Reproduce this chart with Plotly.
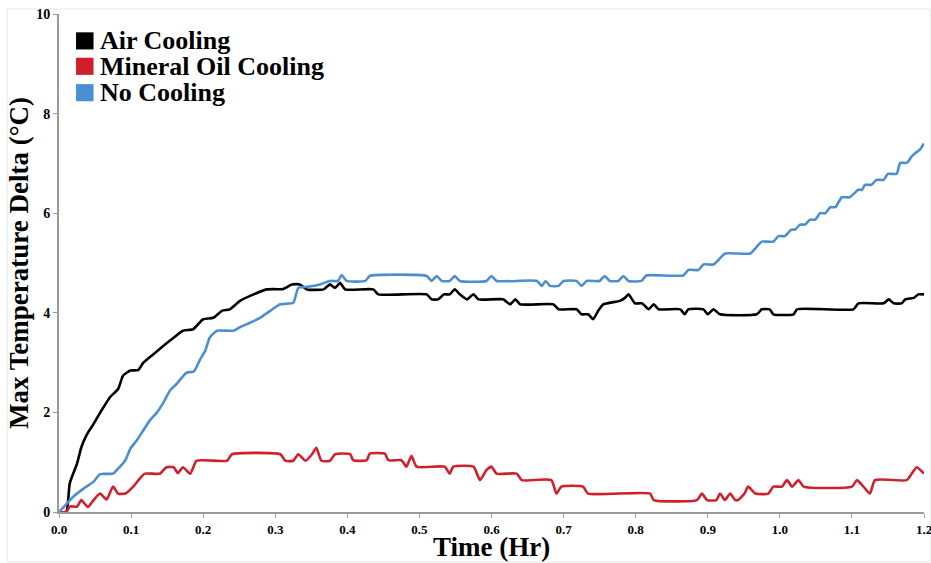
import plotly.graph_objects as go

# Max temperature delta (°C) over time (hr) for each cooling setup: (time, delta)
air_cooling = [
    (0.0, 0.0), (0.01, 0.0), (0.015, 0.58), (0.025, 0.97), (0.031, 1.3), (0.038, 1.54),
    (0.048, 1.77), (0.059, 2.04), (0.071, 2.31), (0.082, 2.47), (0.089, 2.74), (0.099, 2.84),
    (0.11, 2.85), (0.117, 3.0), (0.131, 3.17), (0.145, 3.34), (0.159, 3.5), (0.172, 3.64),
    (0.186, 3.67), (0.2, 3.87), (0.214, 3.9), (0.226, 4.04), (0.237, 4.07), (0.251, 4.24),
    (0.27, 4.37), (0.288, 4.47), (0.311, 4.48), (0.323, 4.57), (0.334, 4.57), (0.344, 4.47),
    (0.367, 4.47), (0.376, 4.57), (0.383, 4.5), (0.39, 4.6), (0.397, 4.47), (0.436, 4.47),
    (0.443, 4.37), (0.51, 4.37), (0.517, 4.27), (0.526, 4.27), (0.534, 4.37), (0.542, 4.37),
    (0.549, 4.47), (0.556, 4.37), (0.566, 4.27), (0.575, 4.37), (0.582, 4.27), (0.616, 4.27),
    (0.626, 4.17), (0.633, 4.27), (0.64, 4.17), (0.686, 4.17), (0.693, 4.07), (0.718, 4.07),
    (0.725, 3.97), (0.734, 3.97), (0.741, 3.87), (0.748, 4.04), (0.755, 4.17), (0.778, 4.24),
    (0.785, 4.3), (0.79, 4.37), (0.799, 4.19), (0.809, 4.19), (0.818, 4.07), (0.825, 4.17),
    (0.832, 4.07), (0.862, 4.07), (0.868, 3.97), (0.873, 4.07), (0.894, 4.07), (0.9, 3.97),
    (0.908, 4.07), (0.917, 3.97), (0.968, 3.97), (0.975, 4.07), (0.986, 4.07), (0.991, 3.97),
    (1.019, 3.97), (1.024, 4.07), (1.102, 4.07), (1.109, 4.19), (1.144, 4.19), (1.151, 4.27),
    (1.158, 4.19), (1.169, 4.19), (1.174, 4.27), (1.186, 4.3), (1.192, 4.37), (1.2, 4.37),
]

mineral_oil_cooling = [
    (0.0, 0.0), (0.01, 0.0), (0.015, 0.11), (0.025, 0.11), (0.031, 0.24), (0.04, 0.1),
    (0.048, 0.24), (0.057, 0.37), (0.066, 0.25), (0.075, 0.51), (0.082, 0.37), (0.092, 0.37),
    (0.103, 0.51), (0.112, 0.67), (0.119, 0.77), (0.14, 0.77), (0.149, 0.9), (0.159, 0.9),
    (0.165, 0.78), (0.172, 0.9), (0.182, 0.77), (0.191, 1.03), (0.233, 1.03), (0.24, 1.16),
    (0.307, 1.16), (0.314, 1.03), (0.325, 1.03), (0.332, 1.16), (0.342, 1.03), (0.351, 1.16),
    (0.357, 1.29), (0.364, 1.03), (0.376, 1.03), (0.383, 1.16), (0.404, 1.16), (0.408, 1.04),
    (0.427, 1.04), (0.431, 1.17), (0.452, 1.17), (0.457, 1.04), (0.475, 1.04), (0.482, 0.91),
    (0.489, 1.13), (0.496, 0.91), (0.535, 0.91), (0.542, 0.77), (0.547, 0.91), (0.575, 0.91),
    (0.584, 0.64), (0.593, 0.84), (0.6, 0.91), (0.607, 0.77), (0.635, 0.77), (0.642, 0.64),
    (0.683, 0.64), (0.69, 0.37), (0.697, 0.51), (0.727, 0.51), (0.734, 0.37), (0.82, 0.37),
    (0.825, 0.24), (0.885, 0.24), (0.892, 0.37), (0.899, 0.24), (0.912, 0.24), (0.917, 0.37),
    (0.924, 0.24), (0.931, 0.37), (0.938, 0.24), (0.942, 0.24), (0.951, 0.37), (0.956, 0.51),
    (0.966, 0.37), (0.984, 0.37), (0.991, 0.51), (1.003, 0.51), (1.01, 0.64), (1.017, 0.51),
    (1.026, 0.64), (1.033, 0.51), (1.1, 0.51), (1.107, 0.64), (1.116, 0.51), (1.125, 0.37),
    (1.132, 0.64), (1.176, 0.64), (1.183, 0.77), (1.19, 0.9), (1.2, 0.77),
]

no_cooling = [
    (0.0, 0.0), (0.011, 0.17), (0.02, 0.31), (0.034, 0.47), (0.048, 0.61), (0.057, 0.76),
    (0.075, 0.77), (0.082, 0.87), (0.092, 1.04), (0.099, 1.27), (0.108, 1.44), (0.117, 1.64),
    (0.126, 1.84), (0.136, 2.0), (0.145, 2.2), (0.154, 2.44), (0.163, 2.57), (0.177, 2.8),
    (0.187, 2.82), (0.196, 3.07), (0.203, 3.24), (0.209, 3.5), (0.219, 3.64), (0.242, 3.64),
    (0.251, 3.71), (0.265, 3.8), (0.279, 3.9), (0.293, 4.04), (0.307, 4.17), (0.325, 4.2),
    (0.332, 4.5), (0.344, 4.52), (0.362, 4.57), (0.376, 4.64), (0.387, 4.64), (0.392, 4.76),
    (0.399, 4.64), (0.425, 4.64), (0.431, 4.74), (0.51, 4.74), (0.517, 4.64), (0.524, 4.74),
    (0.531, 4.64), (0.542, 4.64), (0.549, 4.74), (0.556, 4.64), (0.593, 4.64), (0.6, 4.74),
    (0.607, 4.64), (0.663, 4.64), (0.67, 4.54), (0.675, 4.64), (0.681, 4.54), (0.693, 4.54),
    (0.7, 4.64), (0.718, 4.64), (0.725, 4.54), (0.732, 4.64), (0.75, 4.64), (0.757, 4.74),
    (0.764, 4.64), (0.776, 4.64), (0.783, 4.74), (0.79, 4.64), (0.808, 4.64), (0.815, 4.75),
    (0.866, 4.75), (0.873, 4.86), (0.887, 4.86), (0.894, 4.97), (0.908, 4.97), (0.916, 5.08),
    (0.924, 5.19), (0.959, 5.19), (0.967, 5.31), (0.975, 5.43), (0.991, 5.43), (0.998, 5.54),
    (1.007, 5.54), (1.016, 5.67), (1.021, 5.67), (1.028, 5.77), (1.035, 5.77), (1.042, 5.87),
    (1.049, 5.87), (1.056, 6.0), (1.063, 6.0), (1.07, 6.12), (1.077, 6.12), (1.086, 6.32),
    (1.097, 6.32), (1.109, 6.47), (1.114, 6.47), (1.118, 6.57), (1.127, 6.57), (1.134, 6.67),
    (1.144, 6.67), (1.15, 6.79), (1.162, 6.79), (1.167, 7.01), (1.176, 7.01), (1.183, 7.14),
    (1.188, 7.21), (1.194, 7.27), (1.2, 7.4),
]

series_names = ["Air Cooling", "Mineral Oil Cooling", "No Cooling"]
series_colors = ["#000000", "#d21f2b", "#4b8fd3"]
x_ticks = [0.0, 0.1, 0.2, 0.3, 0.4, 0.5, 0.6, 0.7, 0.8, 0.9, 1.0, 1.1, 1.2]
y_ticks = [0, 2, 4, 6, 8, 10]
x_title = "Time (Hr)"
y_title = "Max Temperature Delta (°C)"

SERIF = "Liberation Serif, Times New Roman, serif"

fig = go.Figure()
for name, color, data in zip(series_names, series_colors,
                             [air_cooling, mineral_oil_cooling, no_cooling]):
    xs = [p[0] for p in data]
    ys = [p[1] for p in data]
    fig.add_trace(go.Scatter(
        x=xs, y=ys, mode="lines", name=name, showlegend=False,
        line=dict(color=color, width=2.6, shape="spline", smoothing=0.5),
    ))

axis_common = dict(
    showgrid=False, zeroline=False, showline=True, linecolor="#9a9a9a", linewidth=2,
    ticks="outside", ticklen=4, tickwidth=1, tickcolor="#9a9a9a",
)

fig.update_layout(
    width=931, height=563,
    margin=dict(l=59, r=7, t=12, b=51),
    paper_bgcolor="white", plot_bgcolor="white",
    showlegend=False,
    xaxis=dict(
        range=[0, 1.2], tickvals=x_ticks, ticktext=[f"{v:.1f}" for v in x_ticks],
        tickfont=dict(family=SERIF, size=13, color="#000000", weight="bold"),
        ticklabeloverflow="allow", automargin=False,
        **axis_common,
    ),
    yaxis=dict(
        range=[0, 10], tickvals=y_ticks, ticktext=[str(v) for v in y_ticks],
        tickfont=dict(family=SERIF, size=14, color="#000000", weight="bold"),
        title=dict(text=f"<b>{y_title}</b>",
                   font=dict(family=SERIF, size=27, color="#000000"), standoff=0),
        **axis_common,
    ),
)

# Horizontal axis title, centred under the plot area
fig.add_annotation(xref="paper", yref="paper", x=0.5, y=-0.071,
                   xanchor="center", yanchor="middle", showarrow=False, borderpad=0,
                   text=f"<b>{x_title}</b>",
                   font=dict(family=SERIF, size=27, color="#000000"))

# Legend: colour swatch plus label for each series, stacked in the upper-left corner
legend_rows = [0.946, 0.895, 0.842]
for name, color, yc in zip(series_names, series_colors, legend_rows):
    fig.add_shape(type="rect", xref="paper", yref="paper",
                  x0=0.0197, x1=0.0399, y0=yc - 0.0172, y1=yc + 0.0172,
                  line=dict(width=0), fillcolor=color)
    fig.add_annotation(xref="paper", yref="paper", x=0.0462, y=yc,
                       xanchor="left", yanchor="middle", showarrow=False,
                       borderpad=0, text=f"<b>{name}</b>",
                       font=dict(family=SERIF, size=26, color="#000000"))

# Thin light frame around the figure
fig.add_shape(type="rect", xref="paper", yref="paper",
              x0=-52 / 865, x1=1.0 + 6 / 865, y0=-50 / 500, y1=1.0 + 5 / 500,
              line=dict(color="#e6e6e6", width=1), fillcolor="rgba(0,0,0,0)", layer="below")

fig.write_html("out.html")
